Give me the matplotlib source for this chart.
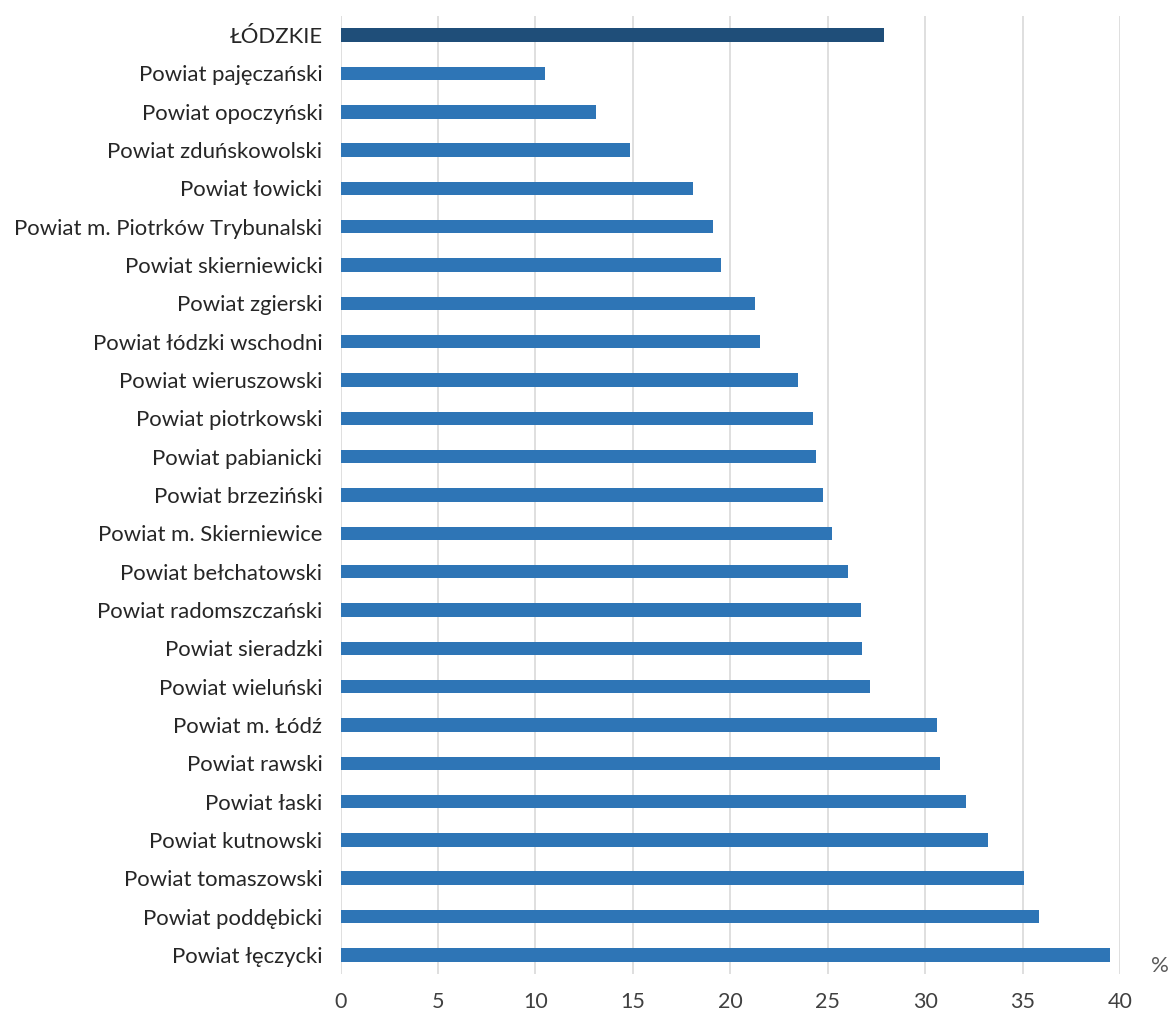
import matplotlib
matplotlib.use("Agg")
import matplotlib.pyplot as plt

categories = [
    "ŁÓDZKIE",
    "Powiat pajęczański",
    "Powiat opoczyński",
    "Powiat zduńskowolski",
    "Powiat łowicki",
    "Powiat m. Piotrków Trybunalski",
    "Powiat skierniewicki",
    "Powiat zgierski",
    "Powiat łódzki wschodni",
    "Powiat wieruszowski",
    "Powiat piotrkowski",
    "Powiat pabianicki",
    "Powiat brzeziński",
    "Powiat m. Skierniewice",
    "Powiat bełchatowski",
    "Powiat radomszczański",
    "Powiat sieradzki",
    "Powiat wieluński",
    "Powiat m. Łódź",
    "Powiat rawski",
    "Powiat łaski",
    "Powiat kutnowski",
    "Powiat tomaszowski",
    "Powiat poddębicki",
    "Powiat łęczycki",
]
values = [27.9, 10.5, 13.1, 14.85, 18.1, 19.1, 19.5, 21.25, 21.55, 23.5,
          24.25, 24.4, 24.75, 25.2, 26.05, 26.7, 26.75, 27.15, 30.6, 30.75,
          32.1, 33.25, 35.05, 35.85, 39.5]
xticks = [0, 5, 10, 15, 20, 25, 30, 35, 40]

plt.rcParams['font.family'] = ['Lato', 'DejaVu Sans']

fig = plt.figure(figsize=(11.71, 10.17), dpi=100)
ax = fig.add_axes([340.5 / 1171, 43 / 1017, (1120 - 340.5) / 1171, (974 - 16) / 1017])

n = len(categories)
ypos = list(range(n))
colors = ['#1F4E79'] + ['#2E75B6'] * (n - 1)
ax.barh(ypos, values, height=0.35, color=colors, zorder=3)

ax.set_ylim(n - 0.5, -0.5)
ax.set_xlim(0, 40)
ax.set_xticks(xticks)
ax.set_xticklabels([str(t) for t in xticks], fontsize=15.5, color='#404040')
ax.set_yticks(ypos)
ax.set_yticklabels(categories, fontsize=15.9, color='#262626')
ax.tick_params(axis='both', length=0)
ax.tick_params(axis='y', pad=13)
ax.tick_params(axis='x', pad=13)
ax.grid(axis='x', color='#D9D9D9', linewidth=1.2, zorder=0)
for s in ax.spines.values():
    s.set_visible(False)

fig.text(1160 / 1171, 1 - 966 / 1017, '%', fontsize=16, color='#595959',
         ha='center', va='center')

fig.savefig('out.png', dpi=100, facecolor='white')
